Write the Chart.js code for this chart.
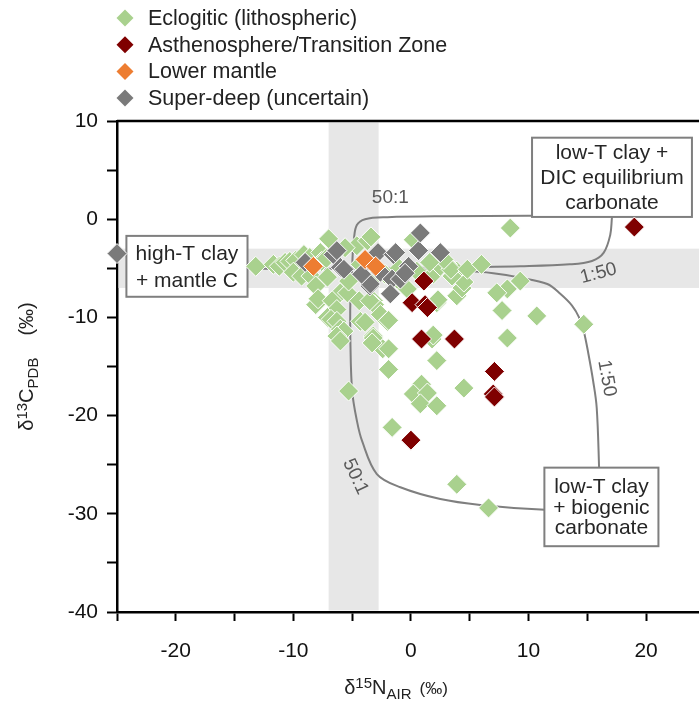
<!DOCTYPE html>
<html lang="en">
<head>
<meta charset="UTF-8">
<title>Diamond C and N isotopes</title>
<script src="https://cdn.jsdelivr.net/npm/chart.js@4/dist/chart.umd.min.js"></script>
<style>
  html, body { margin: 0; padding: 0; background: #fff; overflow: hidden; }
  #wrap { width: 699px; height: 705px; position: relative; }
  canvas { display: block; }
</style>
</head>
<body>
<div id="wrap"><canvas id="chart"></canvas></div>
<script>
const FONT = "'Liberation Sans', Arial, sans-serif";
const ink = '#222';
const lineGrey = '#7f7f7f';

// diamond inclusions, [d15N, d13C]
const eclogitic = [
  [-13.2, -4.8], [-11.7, -4.6], [-11.2, -4.8], [-10.7, -4.4], [-10.3, -4.3], [-9.8, -4.2],
  [-10.0, -5.4], [-9.3, -5.8], [-9.1, -3.6], [-8.6, -3.9], [-8.5, -5.8], [-7.7, -3.4],
  [-7.6, -4.3], [-7.2, -4.0], [-7.0, -2.0], [-8.1, -6.8], [-7.1, -5.9], [-6.0, -7.5],
  [-8.1, -8.7], [-7.9, -8.1], [-6.7, -8.3], [-6.3, -9.2], [-7.1, -10.0], [-6.8, -10.2],
  [-6.3, -10.4], [-6.0, -11.2], [-5.7, -11.4], [-6.3, -11.9], [-6.0, -12.4], [-5.4, -7.5],
  [-5.3, -6.3], [-4.3, -4.6], [-4.6, -2.7], [-5.6, -2.9], [-3.7, -2.2], [-3.4, -1.8],
  [-4.3, -10.4], [-4.4, -8.3], [-3.2, -8.3], [-3.1, -8.7], [-2.6, -9.7], [-2.0, -10.4],
  [-1.9, -10.3], [-3.2, -11.9], [-3.2, -12.1], [-2.4, -13.2], [-3.3, -12.6], [-1.9, -13.2],
  [-1.9, -15.3], [-5.3, -17.5], [-1.6, -21.2], [-0.6, -6.8], [0.2, -2.1], [-3.4, -6.2],
  [-2.2, -5.6], [-1.0, -5.0], [0.5, -5.3], [-0.3, -7.1], [-3.5, -8.3], [-3.9, -10.5],
  [0.9, -16.8], [0.2, -17.8], [1.4, -17.7], [0.8, -18.8], [2.2, -19.0], [2.2, -14.4],
  [1.8, -12.2], [1.9, -11.8], [2.2, -8.5], [2.3, -8.2], [3.9, -7.8], [4.35, -7.0],
  [4.5, -6.4], [3.9, -5.3], [3.1, -4.6], [3.5, -5.8], [2.2, -4.2], [1.9, -5.6],
  [2.5, -4.8], [3.4, -5.1], [4.8, -5.1], [2.8, -4.1], [1.6, -4.4], [4.5, -17.2],
  [3.9, -27.0], [6.6, -29.4], [6.0, -4.6], [9.3, -6.3], [8.2, -7.1], [7.3, -7.5],
  [7.75, -9.3], [10.7, -9.85], [14.7, -10.7], [8.2, -12.1], [8.45, -0.9]
];
const asthenosphere = [
  [19.0, -0.8], [1.1, -6.3], [0.1, -8.5], [1.2, -8.7], [1.4, -9.0], [0.9, -12.2],
  [3.7, -12.2], [7.1, -15.5], [7.0, -17.8], [7.1, -18.1], [0.0, -22.5]
];
const lowerMantle = [[-8.3, -4.8], [-3.9, -4.1], [-3.0, -4.8]];
const superDeep = [
  [-25.0, -3.5], [-9.0, -4.4], [-6.6, -3.6], [-6.3, -3.2], [-6.0, -4.9], [-5.7, -5.1],
  [-3.5, -6.8], [-2.8, -3.4], [-2.6, -5.4], [-1.5, -3.6], [-1.3, -3.4], [-1.6, -6.1],
  [-0.9, -6.1], [-1.75, -7.6], [-0.2, -4.8], [0.65, -3.2], [0.8, -1.4], [2.5, -3.4],
  [-3.45, -6.6], [-4.2, -5.6], [-0.5, -5.5]
];

// mixing hyperbolae from the high-T clay + mantle C end-member
const dic50to1 = [[-5, -5], [-4.95, -3.5], [-4.85, -2.0], [-4.6, -0.6], [-3.9, 0.0], [-2, 0.2], [3, 0.3], [10, 0.35], [15, 0.45], [17.2, 1.0]];
const dic1to50 = [[-5, -5], [0, -4.95], [5, -4.88], [9.3, -4.8], [13.5, -4.6], [15.4, -4.25], [16.4, -3.4], [16.95, -1.6], [17.1, 0.2], [17.2, 1.0]];
const bio50to1 = [[-5, -5], [-5.15, -8.3], [-5.15, -12.4], [-5.0, -17.5], [-4.6, -20.5], [-4.15, -22.6], [-2.9, -25.95], [-0.9, -27.3], [2.5, -28.5], [5.9, -29.1], [11.4, -29.6], [16.1, -29.7]];
const bio1to50 = [[-5, -5], [0, -5.1], [4.45, -5.26], [7, -5.5], [9.3, -5.95], [11.6, -6.6], [12.7, -7.6], [13.7, -8.8], [14.3, -10.0], [14.7, -11.4], [15.1, -13.75], [15.5, -16.5], [15.8, -19.2], [16.0, -25.2], [16.1, -29.7]];

// grey bands: mantle d15N and d13C ranges
const nBand = [-7, -2.75];
const cBand = [-7, -3];

const xTicks = [-25, -20, -15, -10, -5, 0, 5, 10, 15, 20];
const xLabels = [-20, -10, 0, 10, 20];
const yTicks = [-40, -35, -30, -25, -20, -15, -10, -5, 0, 5, 10];
const yLabels = [-40, -30, -20, -10, 0, 10];

const toXY = pts => pts.map(p => ({ x: p[0], y: p[1] }));

function group(label, pts, color, order) {
  return {
    label, data: toXY(pts), inLegend: true, order, clip: false,
    pointStyle: 'rectRot', pointRadius: 10, pointHoverRadius: 10,
    backgroundColor: color, borderColor: '#ffffff', borderWidth: 1
  };
}
function curve(pts) {
  return {
    data: toXY(pts), showLine: true, order: 6, pointRadius: 0,
    borderColor: lineGrey, borderWidth: 2, tension: 0.35, fill: false
  };
}

const datasets = [
  group('Eclogitic (lithospheric)', eclogitic, '#a9d18e', 4),
  group('Asthenosphere/Transition Zone', asthenosphere, '#7f0000', 2),
  group('Lower mantle', lowerMantle, '#ed7d31', 1),
  group('Super-deep (uncertain)', superDeep, '#7a7a7a', 3),
  curve(dic50to1), curve(dic1to50), curve(bio50to1), curve(bio1to50)
];

// end-member boxes, in axis units
const boxes = [
  { lines: ['high-T clay', '+ mantle C'], x0: -24.2, x1: -13.9, y0: -1.7, y1: -7.9, gap: 27 },
  { lines: ['low-T clay +', 'DIC equilibrium', 'carbonate'], x0: 10.3, x1: 23.9, y0: 8.3, y1: 0.23, gap: 25 },
  { lines: ['low-T clay', '+ biogenic', 'carbonate'], x0: 11.35, x1: 21.05, y0: -25.3, y1: -33.3, gap: 20.5 }
];
const ratioTags = [
  { t: '50:1', x: -1.75, y: 2.2, rot: 0 },
  { t: '1:50', x: 15.96, y: -5.52, rot: -15 },
  { t: '1:50', x: 16.65, y: -16.2, rot: 80 },
  { t: '50:1', x: -4.73, y: -26.2, rot: 65 }
];

function drawRich(ctx, parts, cx, baseY) {
  let total = 0;
  for (const p of parts) {
    ctx.font = p.s + 'px ' + FONT;
    p.w = ctx.measureText(p.t).width + (p.gap || 0);
    total += p.w;
  }
  let x = cx - total / 2;
  ctx.textAlign = 'left';
  ctx.textBaseline = 'alphabetic';
  for (const p of parts) {
    ctx.font = p.s + 'px ' + FONT;
    ctx.fillText(p.t, x + (p.gap || 0), baseY + (p.dy || 0));
    x += p.w;
  }
}

const decor = {
  id: 'decor',
  beforeDatasetsDraw(chart) {
    const { ctx, chartArea: a, scales: { x, y } } = chart;
    ctx.save();
    ctx.fillStyle = '#e7e7e7';
    const bx0 = x.getPixelForValue(nBand[0]), bx1 = x.getPixelForValue(nBand[1]);
    ctx.fillRect(bx0, a.top + 1.5, bx1 - bx0, a.bottom - a.top - 3);
    const by0 = y.getPixelForValue(cBand[1]), by1 = y.getPixelForValue(cBand[0]);
    ctx.fillRect(a.left + 1.5, by0, a.right - a.left, by1 - by0);
    ctx.restore();
  },
  // boxes sit above the curves but under the symbols
  beforeDatasetDraw(chart, args) {
    if (args.index !== 0) return;
    const { ctx, scales: { x, y } } = chart;
    ctx.save();
    ctx.strokeStyle = lineGrey;
    ctx.lineWidth = 2;
    ctx.beginPath();
    ctx.moveTo(x.getPixelForValue(-13.9), y.getPixelForValue(-5.05));
    ctx.lineTo(x.getPixelForValue(-5), y.getPixelForValue(-5.05));
    ctx.stroke();

    ctx.fillStyle = '#595959';
    ctx.font = '19px ' + FONT;
    ctx.textAlign = 'center';
    ctx.textBaseline = 'middle';
    for (const r of ratioTags) {
      ctx.save();
      ctx.translate(x.getPixelForValue(r.x), y.getPixelForValue(r.y));
      ctx.rotate(r.rot * Math.PI / 180);
      ctx.fillText(r.t, 0, 0);
      ctx.restore();
    }

    for (const b of boxes) {
      const l = x.getPixelForValue(b.x0), r = x.getPixelForValue(b.x1);
      const t = y.getPixelForValue(b.y0), btm = y.getPixelForValue(b.y1);
      ctx.fillStyle = '#fff';
      ctx.fillRect(l, t, r - l, btm - t);
      ctx.strokeStyle = lineGrey;
      ctx.lineWidth = 2;
      ctx.strokeRect(l, t, r - l, btm - t);
      ctx.fillStyle = '#262626';
      ctx.font = '21px ' + FONT;
      const mid = (t + btm) / 2 + 1;
      b.lines.forEach((s, i) => {
        ctx.fillText(s, (l + r) / 2, mid + (i - (b.lines.length - 1) / 2) * b.gap);
      });
    }
    ctx.restore();
  },
  afterDraw(chart) {
    const { ctx, chartArea: a } = chart;
    ctx.save();
    // top frame line
    ctx.strokeStyle = '#000';
    ctx.lineWidth = 2.5;
    ctx.beginPath();
    ctx.moveTo(a.left, a.top);
    ctx.lineTo(a.right, a.top);
    ctx.stroke();

    // legend
    const rows = chart.data.datasets.filter(d => d.inLegend);
    rows.forEach((d, i) => {
      const cy = 18 + i * 26.7;
      ctx.fillStyle = d.backgroundColor;
      ctx.beginPath();
      ctx.moveTo(125 - 8.5, cy);
      ctx.lineTo(125, cy - 8.5);
      ctx.lineTo(125 + 8.5, cy);
      ctx.lineTo(125, cy + 8.5);
      ctx.closePath();
      ctx.fill();
      ctx.fillStyle = ink;
      ctx.font = '21.5px ' + FONT;
      ctx.textAlign = 'left';
      ctx.textBaseline = 'middle';
      ctx.fillText(d.label, 148, cy + 1);
    });

    // axis titles
    ctx.fillStyle = ink;
    drawRich(ctx, [
      { t: 'δ', s: 20 }, { t: '15', s: 15, dy: -6 }, { t: 'N', s: 20 },
      { t: 'AIR', s: 15, dy: 5 }, { t: '(‰)', s: 17, gap: 8 }
    ], (a.left + a.right) / 2 - 12, a.bottom + 82);

    ctx.translate(a.left - 84, (a.top + a.bottom) / 2);
    ctx.rotate(-Math.PI / 2);
    drawRich(ctx, [
      { t: 'δ', s: 20 }, { t: '13', s: 15, dy: -6 }, { t: 'C', s: 20 },
      { t: 'PDB', s: 15, dy: 5 }, { t: '(‰)', s: 20, gap: 22 }
    ], 0, 0);
    ctx.restore();
  }
};

new Chart(document.getElementById('chart'), {
  type: 'scatter',
  data: { datasets },
  options: {
    responsive: true,
    maintainAspectRatio: false,
    animation: false,
    events: [],
    layout: { autoPadding: false, padding: { top: 121, left: 0, right: 0, bottom: 0 } },
    plugins: { legend: { display: false }, tooltip: { enabled: false } },
    scales: {
      x: {
        type: 'linear', min: -25, max: 24.5,
        afterBuildTicks: s => { s.ticks = xTicks.map(v => ({ value: v })); },
        afterFit: s => { s.height = 93; s.paddingLeft = 0; s.paddingRight = 0; },
        border: { color: '#000', width: 2.5 },
        grid: { drawOnChartArea: false, tickLength: 9, tickWidth: 2, tickColor: '#000' },
        ticks: {
          font: { family: FONT, size: 21 }, color: '#111', padding: 18,
          maxRotation: 0, autoSkip: false,
          callback: v => xLabels.includes(v) ? String(v) : ''
        }
      },
      y: {
        type: 'linear', min: -40, max: 10,
        afterBuildTicks: s => { s.ticks = yTicks.map(v => ({ value: v })); },
        afterFit: s => { s.width = 117; s.paddingTop = 0; s.paddingBottom = 0; },
        border: { color: '#000', width: 2.5 },
        grid: { drawOnChartArea: false, tickLength: 10, tickWidth: 2, tickColor: '#000' },
        ticks: {
          font: { family: FONT, size: 21 }, color: '#111', padding: 9,
          autoSkip: false,
          callback: v => yLabels.includes(v) ? String(v) : ''
        }
      }
    }
  },
  plugins: [decor]
});
</script>
</body>
</html>
